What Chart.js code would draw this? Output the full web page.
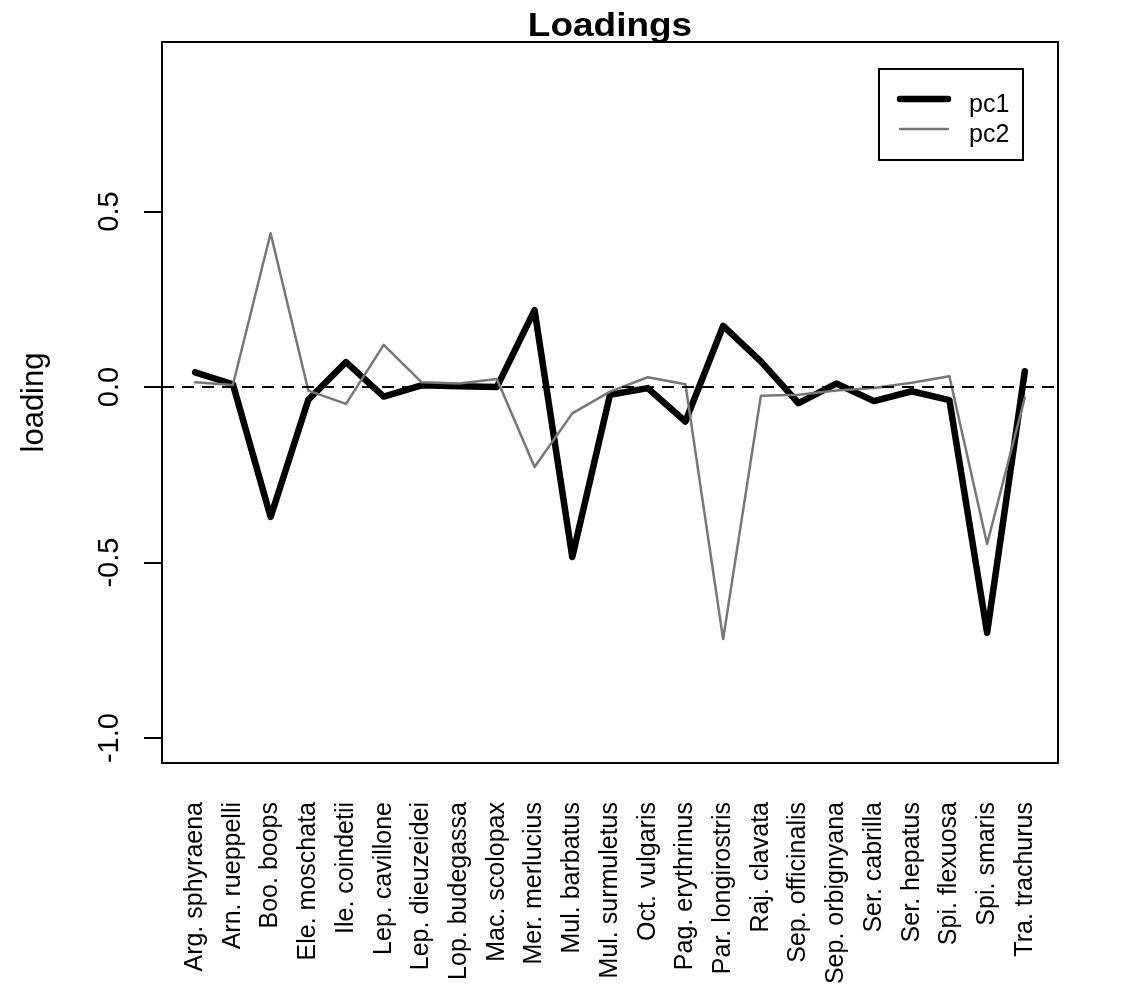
<!DOCTYPE html>
<html>
<head>
<meta charset="utf-8">
<script src="https://cdn.jsdelivr.net/npm/chart.js@4"></script>
<style>
  body { margin: 0; background: #fff; }
  canvas { display: block; }
</style>
</head>
<body>
<canvas id="loadings" width="1121" height="985"></canvas>
<script>
const species = [
    "Arg. sphyraena", "Arn. rueppelli", "Boo. boops", "Ele. moschata", "Ile. coindetii",
    "Lep. cavillone", "Lep. dieuzeidei", "Lop. budegassa", "Mac. scolopax", "Mer. merlucius",
    "Mul. barbatus", "Mul. surmuletus", "Oct. vulgaris", "Pag. erythrinus", "Par. longirostris",
    "Raj. clavata", "Sep. officinalis", "Sep. orbignyana", "Ser. cabrilla", "Ser. hepatus",
    "Spi. flexuosa", "Spi. smaris", "Tra. trachurus"
];

const pc1 = [0.042, 0.008, -0.37, -0.036, 0.071, -0.027, 0.005, 0.002, 0.0, 0.219,
    -0.484, -0.022, -0.003, -0.098, 0.174, 0.073, -0.046, 0.01, -0.04, -0.012,
    -0.037, -0.70, 0.045];

const pc2 = [0.014, 0.006, 0.438, -0.01, -0.048, 0.12, 0.014, 0.01, 0.023, -0.228,
    -0.075, -0.013, 0.028, 0.008, -0.718, -0.025, -0.022, -0.01, -0.003, 0.012,
    0.031, -0.447, -0.03];

const yTicks = [-1.0, -0.5, 0.0, 0.5];
const yTickLabels = ["-1.0", "-0.5", "0.0", "0.5"];

// R style axis limits: 4% extension on each side
const X_MIN = 1 - 0.04 * (species.length - 1);
const X_MAX = species.length + 0.04 * (species.length - 1);
const Y_MIN = -1.071;
const Y_MAX = 0.983;

const FONT = "'Liberation Sans', Arial, sans-serif";

function toPoints(values) {
    return values.map((v, i) => ({ x: i + 1, y: v }));
}

// frame, zero line, axis texts and legend, drawn R-like
const rDecor = {
    id: "rDecor",
    afterDatasetsDraw(chart) {
        const { ctx, chartArea } = chart;
        const y0 = chart.scales.y.getPixelForValue(0);
        ctx.save();
        ctx.strokeStyle = "#000";
        ctx.lineWidth = 2;
        ctx.setLineDash([12, 8]);
        ctx.beginPath();
        ctx.moveTo(chartArea.left, y0);
        ctx.lineTo(chartArea.right, y0);
        ctx.stroke();
        ctx.restore();
    },
    afterDraw(chart) {
        const { ctx, chartArea } = chart;
        const yScale = chart.scales.y;
        ctx.save();

        // box
        ctx.strokeStyle = "#000";
        ctx.lineWidth = 2;
        ctx.strokeRect(chartArea.left, chartArea.top, chartArea.right - chartArea.left, chartArea.bottom - chartArea.top);

        // y tick labels, parallel to axis
        ctx.fillStyle = "#000";
        ctx.font = "29px " + FONT;
        ctx.textAlign = "center";
        ctx.textBaseline = "alphabetic";
        yTicks.forEach((v, i) => {
            ctx.save();
            ctx.translate(chartArea.left - 44, yScale.getPixelForValue(v));
            ctx.rotate(-Math.PI / 2);
            ctx.fillText(yTickLabels[i], 0, 0);
            ctx.restore();
        });

        // y axis title
        ctx.save();
        ctx.font = "31px " + FONT;
        ctx.translate(43, (chartArea.top + chartArea.bottom) / 2);
        ctx.rotate(-Math.PI / 2);
        ctx.fillText("loading", 0, 0);
        ctx.restore();

        // main title
        ctx.save();
        ctx.font = "bold 33px " + FONT;
        ctx.translate((chartArea.left + chartArea.right) / 2, 36);
        ctx.scale(1.12, 1);
        ctx.fillText("Loadings", 0, 0);
        ctx.restore();

        // legend
        const bx = chartArea.right - 179, by = chartArea.top + 27, bw = 144, bh = 91;
        ctx.lineWidth = 2;
        ctx.strokeRect(bx, by, bw, bh);
        ctx.lineCap = "round";
        ctx.textAlign = "left";
        ctx.font = "25px " + FONT;
        chart.data.datasets.forEach((ds, i) => {
            const ly = by + 30 + i * 30;
            ctx.strokeStyle = ds.borderColor;
            ctx.lineWidth = ds.borderWidth;
            ctx.beginPath();
            ctx.moveTo(bx + 21, ly);
            ctx.lineTo(bx + 69, ly);
            ctx.stroke();
            ctx.fillStyle = "#000";
            ctx.fillText(ds.label, bx + 90, ly + 13);
        });
        ctx.restore();
    }
};

const chart = new Chart(document.getElementById("loadings"), {
    type: "line",
    data: {
        datasets: [{
            label: "pc1",
            data: toPoints(pc1),
            borderColor: "#000000",
            borderWidth: 6.5,
            order: 1
        }, {
            label: "pc2",
            data: toPoints(pc2),
            borderColor: "#777777",
            borderWidth: 2.5,
            order: 0
        }]
    },
    options: {
        responsive: false,
        animation: false,
        layout: { padding: { top: 42, right: 63, left: 0, bottom: 0 } },
        elements: {
            point: { radius: 0, hoverRadius: 0 },
            line: { tension: 0, fill: false, borderCapStyle: "round", borderJoinStyle: "round" }
        },
        plugins: {
            legend: { display: false },
            title: { display: false },
            tooltip: { enabled: false }
        },
        scales: {
            x: {
                type: "linear",
                min: X_MIN,
                max: X_MAX,
                grid: { display: false, drawTicks: false },
                border: { display: false },
                afterBuildTicks: scale => {
                    scale.ticks = species.map((_, i) => ({ value: i + 1 }));
                },
                afterFit: scale => { scale.height = 222; },
                ticks: {
                    autoSkip: false,
                    minRotation: 90,
                    maxRotation: 90,
                    padding: 39,
                    color: "#000",
                    font: { family: FONT, size: 25 },
                    callback: value => species[Math.round(value) - 1]
                }
            },
            y: {
                min: Y_MIN,
                max: Y_MAX,
                grid: { drawOnChartArea: false, drawTicks: true, tickLength: 18, color: "#000", lineWidth: 2 },
                border: { display: false },
                afterBuildTicks: scale => {
                    scale.ticks = yTicks.map(v => ({ value: v }));
                },
                afterFit: scale => { scale.width = 162; },
                ticks: { display: false }
            }
        }
    },
    plugins: [rDecor]
});
</script>
</body>
</html>
